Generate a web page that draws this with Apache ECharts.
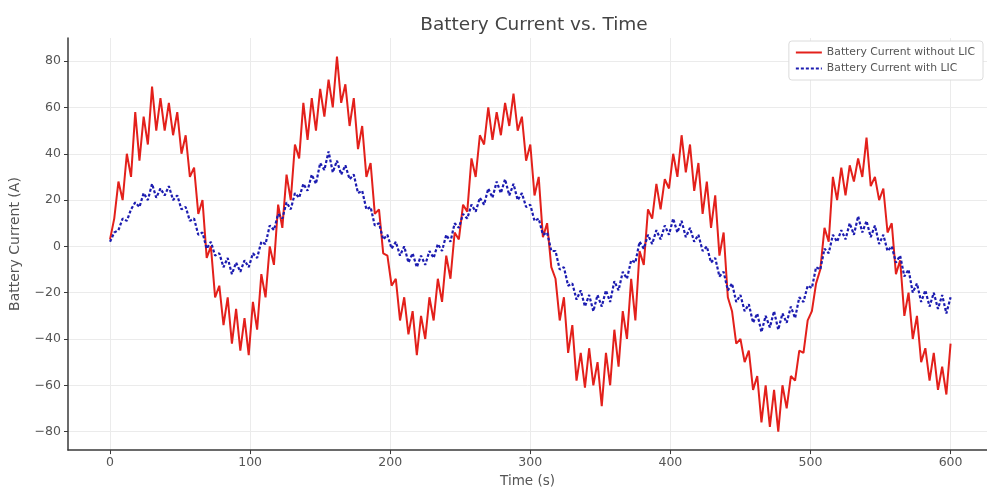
<!DOCTYPE html>
<html>
<head>
<meta charset="utf-8">
<script src="https://cdn.jsdelivr.net/npm/echarts@6/dist/echarts.min.js"></script>
<style>html,body{margin:0;padding:0;background:#fff}#c{width:987px;height:493px}</style>
</head>
<body>
<div id="c"></div>
<script>
// Sampling times (s), every 3 s from 0 to 600
const timeStart = 0, timeStep = 3, timeCount = 201;
const times = [];
for (let i = 0; i < timeCount; i++) times.push(timeStart + i * timeStep);

// Battery current without LIC (A)
const currentWithoutLIC = [
  3, 12, 28, 20, 40, 30, 58, 37, 56, 44,
  69, 50, 64, 50, 62, 48, 58, 40, 48, 30,
  34, 14, 20, -5, 0, -22, -17, -34, -22, -42,
  -27, -45, -31, -47, -24, -36, -12, -22, 0, -8,
  18, 8, 31, 20, 44, 38, 62, 46, 64, 50,
  68, 56, 72, 60, 82, 62, 70, 52, 64, 42,
  52, 30, 36, 14, 16, -3, -4, -17, -14, -32,
  -22, -38, -28, -47, -30, -40, -22, -32, -14, -24,
  -4, -14, 6, 3, 18, 15, 38, 30, 48, 44,
  60, 46, 58, 48, 62, 52, 66, 50, 56, 37,
  44, 22, 30, 4, 10, -9, -14, -32, -22, -46,
  -34, -58, -46, -61, -44, -60, -50, -69, -46, -60,
  -36, -52, -28, -40, -14, -32, -2, -8, 16, 12,
  27, 16, 29, 25, 40, 30, 48, 32, 44, 24,
  36, 14, 28, 8, 22, -4, 6, -22, -28, -42,
  -40, -50, -45, -62, -56, -76, -60, -78, -62, -80,
  -60, -70, -56, -58, -45, -46, -32, -28, -16, -10,
  8, 2, 30, 20, 34, 22, 35, 28, 38, 30,
  47, 26, 30, 20, 25, 6, 10, -12, -6, -30,
  -20, -40, -30, -50, -44, -58, -46, -62, -52, -64,
  -42
];

// Battery current with LIC (A)
const currentWithLIC = [
  2, 6, 7, 12, 11, 16, 19, 17, 23, 20,
  27, 21, 25, 22, 26, 20, 22, 16, 17, 11,
  12, 5, 6, -1, 2, -4, -3, -9, -5, -12,
  -7, -11, -6, -9, -3, -5, 2, 1, 9, 7,
  14, 12, 19, 16, 23, 21, 27, 24, 31, 27,
  36, 33, 41, 32, 37, 31, 35, 29, 31, 23,
  24, 16, 17, 9, 10, 3, 5, -1, 2, -4,
  0, -7, -3, -9, -4, -8, -2, -5, 1, -2,
  5, 2, 10, 8, 14, 12, 18, 15, 21, 18,
  25, 21, 28, 23, 29, 22, 27, 20, 23, 17,
  18, 11, 12, 5, 6, -2, -2, -10, -9, -17,
  -16, -23, -19, -26, -21, -28, -21, -26, -19, -24,
  -15, -19, -11, -14, -6, -7, 2, -1, 5, 1,
  7, 3, 9, 5, 12, 6, 11, 4, 8, 2,
  5, -2, 0, -7, -5, -13, -11, -19, -16, -24,
  -21, -28, -25, -33, -29, -37, -30, -35, -28, -36,
  -29, -33, -26, -31, -22, -24, -17, -18, -9, -10,
  -1, -3, 5, 2, 7, 3, 10, 5, 13, 6,
  11, 4, 9, 1, 5, -2, 0, -7, -4, -13,
  -10, -20, -16, -24, -19, -26, -20, -27, -21, -29,
  -22
];

// Tick labels
const xTicks = [0, 100, 200, 300, 400, 500, 600];
const yTicks = [-80, -60, -40, -20, 0, 20, 40, 60, 80];

const seriesNames = ['Battery Current without LIC', 'Battery Current with LIC'];

const pair = (vals) => times.map((t, i) => [t, vals[i]]);
const minusFmt = (v) => String(v).replace('-', '\u2212');

const chart = echarts.init(document.getElementById('c'), null, {renderer: 'canvas'});
const axisColor = '#3a3a3a';
const labelColor = '#555';
const gridColor = '#ebebeb';
const redColor = '#e3201b';
const blueColor = '#1c1cb0';

chart.setOption({
  animation: false,
  backgroundColor: '#fff',
  title: {
    text: 'Battery Current vs. Time',
    left: 529, top: 11, textAlign: 'center',
    textStyle: {fontFamily: 'DejaVu Sans', fontSize: 18.5, fontWeight: 'normal', color: '#444'}
  },
  legend: {
    orient: 'vertical', right: 4, top: 41,
    padding: [6, 8, 6, 6],
    itemGap: 5, itemWidth: 26, itemHeight: 10,
    backgroundColor: '#fff',
    borderColor: '#dcdcdc', borderWidth: 1, borderRadius: 3,
    itemStyle: {opacity: 0},
    textStyle: {fontFamily: 'DejaVu Sans', fontSize: 10.8, color: '#555'},
    data: seriesNames
  },
  grid: {left: 66, right: 0, top: 38, bottom: 36, containLabel: false},
  xAxis: {
    type: 'value', min: -30, max: 626, splitNumber: 6,
    name: 'Time (s)', nameLocation: 'middle', nameGap: 22,
    nameTextStyle: {fontFamily: 'DejaVu Sans', fontSize: 13.5, color: labelColor},
    axisLine: {show: true, onZero: false, lineStyle: {color: axisColor, width: 1.5}},
    axisTick: {show: true, length: 4, customValues: xTicks, lineStyle: {color: axisColor}},
    axisLabel: {customValues: xTicks, margin: 6, formatter: minusFmt,
      fontFamily: 'DejaVu Sans', fontSize: 12.5, color: labelColor},
    splitLine: {show: true, lineStyle: {color: gridColor, width: 1}}
  },
  yAxis: {
    type: 'value', min: -88, max: 90, splitNumber: 9,
    name: 'Battery Current (A)', nameLocation: 'middle', nameGap: 46,
    nameTextStyle: {fontFamily: 'DejaVu Sans', fontSize: 14, color: labelColor},
    axisLine: {show: true, onZero: false, lineStyle: {color: axisColor, width: 1.5}},
    axisTick: {show: true, length: 4, customValues: yTicks, lineStyle: {color: axisColor}},
    axisLabel: {customValues: yTicks, margin: 7, formatter: minusFmt,
      fontFamily: 'DejaVu Sans', fontSize: 12.5, color: labelColor},
    splitLine: {show: true, lineStyle: {color: gridColor, width: 1}}
  },
  series: [
    {
      name: seriesNames[0], type: 'line', data: pair(currentWithoutLIC),
      showSymbol: false, symbol: 'none',
      lineStyle: {color: redColor, width: 2},
      itemStyle: {color: redColor}, z: 2
    },
    {
      name: seriesNames[1], type: 'line', data: pair(currentWithLIC),
      showSymbol: false, symbol: 'none',
      lineStyle: {color: blueColor, width: 2.2, type: [3, 2]},
      itemStyle: {color: blueColor}, z: 3
    }
  ]
});
</script>
</body>
</html>
